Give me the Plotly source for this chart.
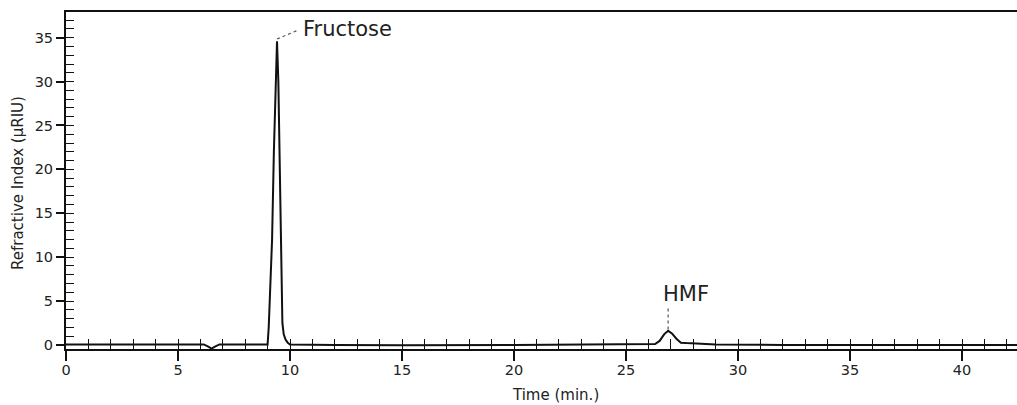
import plotly.graph_objects as go

# ---- data ----
time_min = [0.0, 3.0, 6.15, 6.35, 6.5, 6.65, 6.85, 8.0, 9.0, 9.05, 9.12, 9.2, 9.28, 9.35,
            9.42, 9.48, 9.55, 9.6, 9.63, 9.66, 9.72, 9.8, 9.9, 10.0, 12.0, 15.0,
            20.0, 25.0, 26.3, 26.5, 26.7, 26.88, 27.05, 27.25, 27.45, 27.7, 28.2,
            29.0, 32.0, 36.0, 40.0, 42.5]
signal_uriu = [0.05, 0.05, 0.05, -0.2, -0.42, -0.2, 0.05, 0.05, 0.05, 2.0, 6.0, 12.0,
               22.0, 30.0, 34.6, 30.0, 20.0, 11.0, 5.0, 2.5, 1.2, 0.6, 0.25, 0.05,
               0.0, -0.05, 0.0, 0.05, 0.1, 0.45, 1.2, 1.6, 1.3, 0.7, 0.25, 0.2, 0.15,
               0.05, 0.0, 0.0, 0.0, 0.0]

peak_names = ["Fructose", "HMF"]
peak_times = [9.42, 26.88]
peak_heights = [34.6, 1.6]

x_range = [0, 42.455]
y_range = [-0.47, 37.93]

TXT = "#222222"
FONT = "DejaVu Sans"

fig = go.Figure()
fig.add_trace(go.Scatter(x=time_min, y=signal_uriu, mode="lines",
                         line=dict(color="#111111", width=2), hoverinfo="skip",
                         showlegend=False))
# helper trace for the inner (minor) tick axes
fig.add_trace(go.Scatter(x=[None], y=[None], xaxis="x2", yaxis="y2",
                         showlegend=False, hoverinfo="skip"))

# leader lines (dotted)
fig.add_shape(type="line", x0=peak_times[0], y0=peak_heights[0] + 0.25,
              x1=10.4, y1=35.9, line=dict(color="#555555", width=1.2, dash="dot"))
fig.add_shape(type="line", x0=peak_times[1], y0=peak_heights[1] + 0.15,
              x1=peak_times[1], y1=4.4, line=dict(color="#555555", width=1.2, dash="dot"))

fig.add_annotation(x=10.5, y=35.95, text=peak_names[0], showarrow=False,
                   xanchor="left", yanchor="middle", font=dict(size=21, color=TXT, family=FONT))
fig.add_annotation(x=27.7, y=5.8, text=peak_names[1], showarrow=False,
                   xanchor="center", yanchor="middle", font=dict(size=21, color=TXT, family=FONT))

# axis titles
fig.add_annotation(xref="paper", yref="paper", x=(555 - 66) / 951, y=-(395 - 349) / 337,
                   text="Time (min.)", showarrow=False, xanchor="center", yanchor="middle",
                   font=dict(size=15, color=TXT, family=FONT))
fig.add_annotation(xref="paper", yref="paper", x=-(66 - 18) / 951, y=(349 - 183) / 337,
                   text="Refractive Index (µRIU)", showarrow=False, textangle=-90,
                   xanchor="center", yanchor="middle",
                   font=dict(size=15, color=TXT, family=FONT))

fig.update_layout(
    width=1017, height=405,
    margin=dict(l=66, r=0, t=12, b=56),
    paper_bgcolor="white", plot_bgcolor="white",
    font=dict(family=FONT, color=TXT),
    xaxis=dict(range=x_range, showgrid=False, zeroline=False, showline=True,
               linecolor="#111111", linewidth=2, mirror=True,
               ticks="outside", tick0=0, dtick=5, ticklen=10, tickwidth=1.5,
               tickcolor="#111111", tickfont=dict(size=14.5, color=TXT),
               ticklabelstandoff=-3),
    yaxis=dict(range=y_range, showgrid=False, zeroline=False, showline=True,
               linecolor="#111111", linewidth=2,
               ticks="outside", tick0=0, dtick=5, ticklen=8, tickwidth=1.5,
               tickcolor="#111111", tickfont=dict(size=14.5, color=TXT)),
    xaxis2=dict(range=x_range, overlaying="x", anchor="y2", side="bottom",
                showgrid=False, zeroline=False, showline=False, showticklabels=False,
                ticks="inside", tick0=0, dtick=1, ticklen=10, tickwidth=1.2,
                tickcolor="#111111"),
    yaxis2=dict(range=y_range, overlaying="y", anchor="x2", side="left",
                showgrid=False, zeroline=False, showline=False, showticklabels=False,
                ticks="inside", tick0=0, dtick=1, ticklen=8, tickwidth=1.2,
                tickcolor="#111111"),
)

fig.write_html("out.html")
